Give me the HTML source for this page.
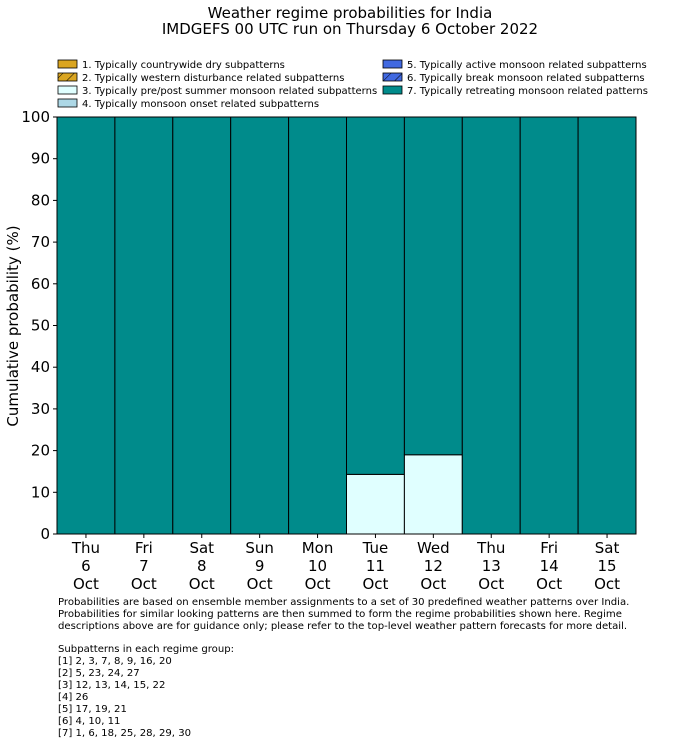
<!DOCTYPE html>
<html><head><meta charset="utf-8"><style>
body{margin:0;background:#fff;}
svg{display:block;font-family:"DejaVu Sans","Liberation Sans",sans-serif;}
</style></head><body>
<svg id="c" width="700" height="754" xmlns="http://www.w3.org/2000/svg">
<text x="350" y="18" font-size="15" text-anchor="middle">Weather regime probabilities for India</text>
<text x="350" y="34" font-size="15" text-anchor="middle">IMDGEFS 00 UTC run on Thursday 6 October 2022</text>
<defs><pattern id="hatch" width="8" height="8" patternUnits="userSpaceOnUse" patternTransform="rotate(45)"><line x1="0" y1="0" x2="0" y2="8" stroke="#000" stroke-width="1"/></pattern></defs>
<g id="legend"></g>
<g id="plot"></g>
<text transform="translate(18,326) rotate(-90)" font-size="15" text-anchor="middle">Cumulative probability (%)</text>
<g font-size="10.1">
<text x="58" y="605">Probabilities are based on ensemble member assignments to a set of 30 predefined weather patterns over India.</text>
<text x="58" y="617">Probabilities for similar looking patterns are then summed to form the regime probabilities shown here. Regime</text>
<text x="58" y="629">descriptions above are for guidance only; please refer to the top-level weather pattern forecasts for more detail.</text>
<text x="58" y="652">Subpatterns in each regime group:</text>
<text x="58" y="664">[1] 2, 3, 7, 8, 9, 16, 20</text>
<text x="58" y="676">[2] 5, 23, 24, 27</text>
<text x="58" y="688">[3] 12, 13, 14, 15, 22</text>
<text x="58" y="700">[4] 26</text>
<text x="58" y="712">[5] 17, 19, 21</text>
<text x="58" y="724">[6] 4, 10, 11</text>
<text x="58" y="736">[7] 1, 6, 18, 25, 28, 29, 30</text>
</g>
</svg>
<script>
const days=["Thu","Fri","Sat","Sun","Mon","Tue","Wed","Thu","Fri","Sat"];
const dates=["6","7","8","9","10","11","12","13","14","15"];
const regime3=[0,0,0,0,0,14.3,19.0,0,0,0];
const regime7=[100,100,100,100,100,85.7,81.0,100,100,100];
const yTicks=[0,10,20,30,40,50,60,70,80,90,100];
const legendLabels=["1. Typically countrywide dry subpatterns","2. Typically western disturbance related subpatterns","3. Typically pre/post summer monsoon related subpatterns","4. Typically monsoon onset related subpatterns","5. Typically active monsoon related subpatterns","6. Typically break monsoon related subpatterns","7. Typically retreating monsoon related patterns"];
const legendColors=["#daa520","#daa520","#e0ffff","#add8e6","#4169e1","#4169e1","#008b8b"];
const NS="http://www.w3.org/2000/svg";
const svg=document.getElementById('c');
const plot=document.getElementById('plot');
const L=57,R=636,T=117,B=534;
const n=days.length,bw=(R-L)/n;
const x=i=>L+i*bw;
const y=v=>B-(v/100)*(B-T);
function mk(tag,a,p){const e=document.createElementNS(NS,tag);for(const k in a)e.setAttribute(k,a[k]);(p||svg).appendChild(e);return e;}
const lg=document.getElementById('legend');
legendLabels.forEach((t,i)=>{
  const col=i<4?0:1,row=i<4?i:i-4;
  const sx=col?383:58,sy=60+row*13;
  const r=mk('rect',{x:sx,y:sy,width:19,height:8,fill:legendColors[i],stroke:'#000','stroke-width':0.8},lg);
  
  
  if(i==1||i==5){mk('rect',{x:sx,y:sy,width:19,height:8,fill:'url(#hatch)',stroke:'none'},lg);}
  const tx=mk('text',{x:sx+24,y:sy+8,'font-size':10},lg);tx.textContent=t;
  
  
});
for(let i=0;i<n;i++){
  let base=0;
  if(regime3[i]>0){
    const r=mk('rect',{x:x(i),y:y(regime3[i]),width:bw,height:y(0)-y(regime3[i]),fill:'#e0ffff',stroke:'#000','stroke-width':1},plot);
    
    
    base=regime3[i];
  }
  const top=base+regime7[i];
  const r=mk('rect',{x:x(i),y:y(top),width:bw,height:y(base)-y(top),fill:'#008b8b',stroke:'#000','stroke-width':1},plot);
  
  
  [days[i],dates[i],"Oct"].forEach((s,k)=>{
    const t=mk('text',{x:x(i)+bw/2,y:553+k*18,'font-size':15,'text-anchor':'middle'});t.textContent=s;
    
    
  });
  mk('line',{x1:x(i)+bw/2,x2:x(i)+bw/2,y1:B,y2:B+4,stroke:'#000'});
}
yTicks.forEach(v=>{
  mk('line',{x1:L-4,x2:L,y1:y(v),y2:y(v),stroke:'#000'});
  const t=mk('text',{x:L-7,y:y(v)+5,'font-size':15,'text-anchor':'end'});t.textContent=v;
  
  
});
const f=mk('rect',{x:L,y:T,width:R-L,height:B-T,fill:'none',stroke:'#000','stroke-width':1});


</script>
</body></html>
